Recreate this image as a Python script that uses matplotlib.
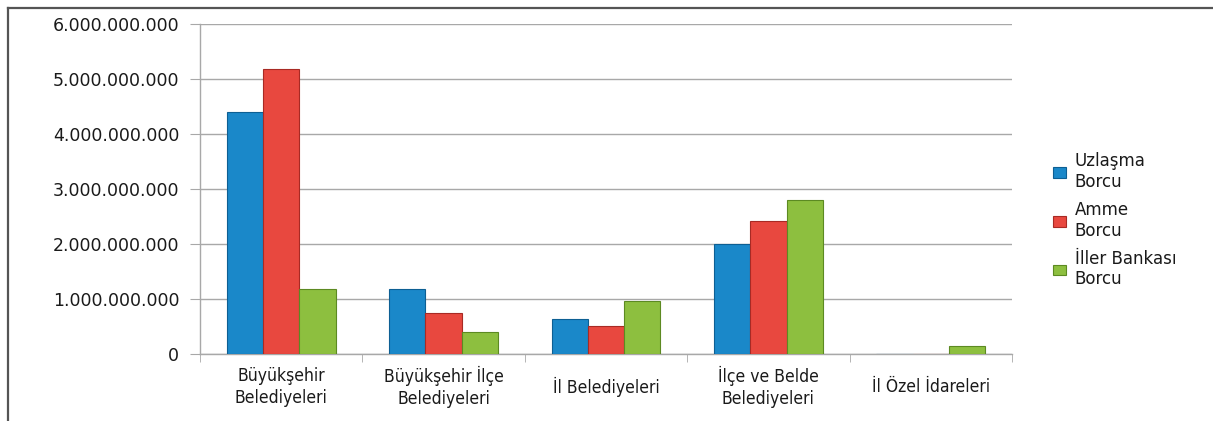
import numpy as np
import matplotlib
matplotlib.use("Agg")
import matplotlib.pyplot as plt
from matplotlib.lines import Line2D
from matplotlib.ticker import FuncFormatter, FixedLocator

# veriler
categories = ["Büyükşehir\nBelediyeleri", "Büyükşehir İlçe\nBelediyeleri",
              "İl Belediyeleri", "İlçe ve Belde\nBelediyeleri", "İl Özel İdareleri"]
series_names = ["Uzlaşma\nBorcu", "Amme\nBorcu", "İller Bankası\nBorcu"]
uzlasma = [4.40e9, 1.18e9, 0.64e9, 2.00e9, 0.0]
amme = [5.18e9, 0.75e9, 0.51e9, 2.42e9, 0.0]
iller_bankasi = [1.18e9, 0.40e9, 0.96e9, 2.80e9, 0.15e9]
y_ticks = [0, 1e9, 2e9, 3e9, 4e9, 5e9, 6e9]

colors = ["#1a88c9", "#e8483f", "#8dbf3f"]
edges = ["#0d5f93", "#a82a24", "#5c8a22"]

fig = plt.figure(figsize=(12.13, 4.21), dpi=100)
ax = fig.add_axes([200 / 1213, 1 - 354 / 421, 812 / 1213, 330 / 421])

x = np.arange(len(categories))
w = 0.223
for i, vals in enumerate([uzlasma, amme, iller_bankasi]):
    ax.bar(x + (i - 1) * w, vals, width=w, color=colors[i], edgecolor=edges[i],
           linewidth=0.8, label=series_names[i], zorder=3)

ax.set_xlim(-0.5, len(categories) - 0.5)
ax.set_ylim(0, 6e9)
ax.yaxis.set_major_locator(FixedLocator(y_ticks))
ax.yaxis.set_major_formatter(FuncFormatter(lambda v, p: f"{int(v):,}".replace(",", ".")))
ax.grid(axis="y", color="#a8a8a8", linewidth=1.0, zorder=0)

for s in ["top", "right"]:
    ax.spines[s].set_visible(False)
for s in ["left", "bottom"]:
    ax.spines[s].set_color("#a8a8a8")
    ax.spines[s].set_linewidth(1.0)

ax.tick_params(axis="y", length=7, color="#a8a8a8", labelsize=12.5, labelcolor="#1a1a1a", pad=8)
ax.set_xticks(x)
ax.set_xticklabels(categories, fontsize=12.5, family="DejaVu Sans", stretch="condensed",
                   color="#1a1a1a", linespacing=1.3, va="center")
ax.tick_params(axis="x", length=0, pad=24)
ax.set_xticks(np.arange(len(categories) + 1) - 0.5, minor=True)
ax.tick_params(axis="x", which="minor", length=6, color="#a8a8a8")

leg = fig.legend(loc="upper left", bbox_to_anchor=(1038 / 1213, 1 - 137 / 421), frameon=False,
                 prop={"size": 12}, handlelength=0.8, handleheight=0.6, handletextpad=0.5,
                 labelspacing=0.6, labelcolor="#1a1a1a")

# çerçeve
fig.add_artist(Line2D([8 / 1213, 1], [1 - 8 / 421, 1 - 8 / 421], color="#555555", linewidth=1.6))
fig.add_artist(Line2D([8 / 1213, 8 / 1213], [0, 1 - 8 / 421], color="#555555", linewidth=1.6))

fig.savefig("out.png", dpi=100)
